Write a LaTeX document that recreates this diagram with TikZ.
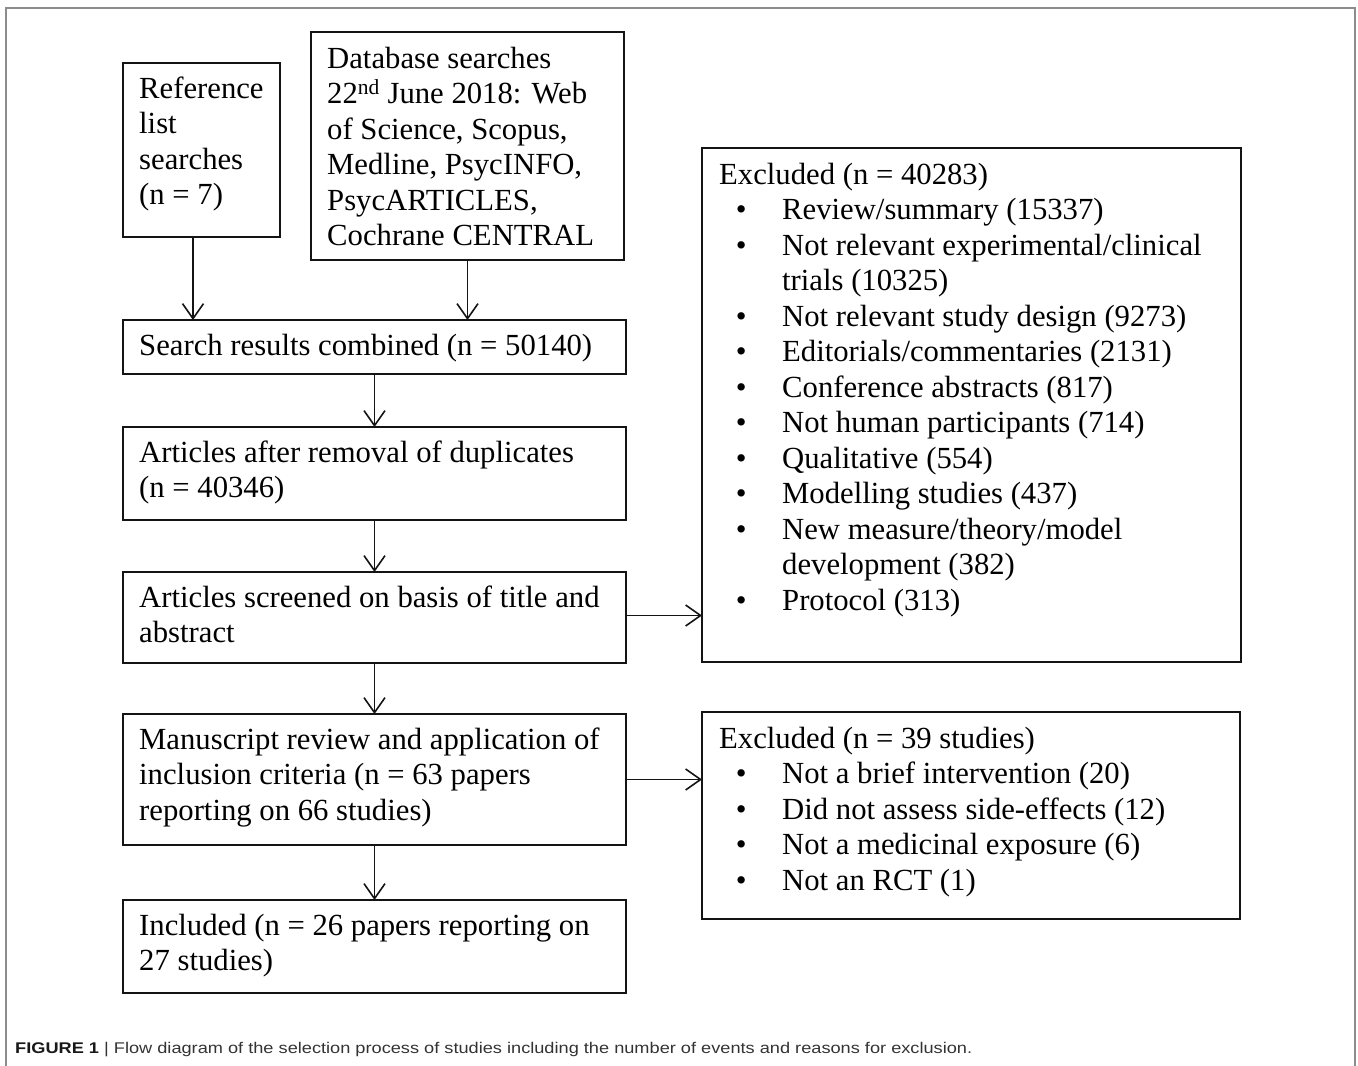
\documentclass[tikz,border=0pt]{standalone}
\usepackage{fontspec}
\usepackage{graphicx}
\setmainfont{Liberation Serif}
\newfontfamily\capfont{Liberation Sans}
\usetikzlibrary{arrows.meta,calc}
\newcommand\bul{\hspace*{22pt}\makebox[0pt]{\textbullet}\hspace*{41pt}}
\newcommand\contline{\hspace*{63pt}}
\begin{document}
\begin{tikzpicture}[x=1pt,y=-1pt,
  box/.style={draw=black!92, line width=1.6pt, inner sep=0pt, outer sep=0pt, anchor=north west},
  txt/.style={anchor=north west, inner sep=0pt, align=left, font=\fontsize{30.7}{35.5}\selectfont},
  arr/.style={draw=black!92, line width=1.6pt, -{Straight Barb[length=15pt,width=21pt,line width=1.6pt]}}]
\useasboundingbox (0,0) rectangle (1358,1066);
% outer frame
\draw[black!45, line width=1.2pt] (6,1066) -- (6,8) -- (1355,8) -- (1355,1066);
% boxes
\node[box, minimum width=157pt, minimum height=174pt] (ref) at (123,63) {};
\node[box, minimum width=313pt, minimum height=228pt] (db) at (311,32) {};
\node[box, minimum width=503pt, minimum height=54pt] (comb) at (123,320) {};
\node[box, minimum width=503pt, minimum height=93pt] (dup) at (123,427) {};
\node[box, minimum width=503pt, minimum height=91pt] (scr) at (123,572) {};
\node[box, minimum width=503pt, minimum height=131pt] (man) at (123,714) {};
\node[box, minimum width=503pt, minimum height=93pt] (inc) at (123,900) {};
\node[box, minimum width=539pt, minimum height=514pt] (ex1) at (702,148) {};
\node[box, minimum width=538pt, minimum height=207pt] (ex2) at (702,712) {};
% texts
\node[txt] (tref) at ([shift={(16,10.15)}]ref.north west) {\strut Reference\\list\\searches\\(n = 7)};
\node[txt] (tdb) at ([shift={(16,11)}]db.north west) {\strut Database searches\\22\textsuperscript{nd} June 2018: Web\\of Science, Scopus,\\Medline, PsycINFO,\\PsycARTICLES,\\Cochrane CENTRAL};
\node[txt] (tcomb) at ([shift={(16,10.15)}]comb.north west) {\strut Search results combined (n = 50140)};
\node[txt] (tdup) at ([shift={(16,10.15)}]dup.north west) {\strut Articles after removal of duplicates\\(n = 40346)};
\node[txt] (tscr) at ([shift={(16,10.15)}]scr.north west) {\strut Articles screened on basis of title and\\abstract};
\node[txt] (tman) at ([shift={(16,10.15)}]man.north west) {\strut Manuscript review and application of\\inclusion criteria (n = 63 papers\\reporting on 66 studies)};
\node[txt] (tinc) at ([shift={(16,10.15)}]inc.north west) {\strut Included (n = 26 papers reporting on\\27 studies)};
\node[txt] (tex1) at ([shift={(17,11)}]ex1.north west) {\strut Excluded (n = 40283)\\
\bul Review/summary (15337)\\
\bul Not relevant experimental/clinical\\
\contline trials (10325)\\
\bul Not relevant study design (9273)\\
\bul Editorials/commentaries (2131)\\
\bul Conference abstracts (817)\\
\bul Not human participants (714)\\
\bul Qualitative (554)\\
\bul Modelling studies (437)\\
\bul New measure/theory/model\\
\contline development (382)\\
\bul Protocol (313)};
\node[txt] (tex2) at ([shift={(17,11)}]ex2.north west) {\strut Excluded (n = 39 studies)\\
\bul Not a brief intervention (20)\\
\bul Did not assess side-effects (12)\\
\bul Not a medicinal exposure (6)\\
\bul Not an RCT (1)};
% connectors
\draw[arr] ([xshift=-8.5pt]ref.south) -- ([xshift=-8.5pt]ref.south |- comb.north);
\draw[arr] (db.south) -- (db.south |- comb.north);
\draw[arr] (comb.south) -- (dup.north);
\draw[arr] (dup.south) -- (scr.north);
\draw[arr] (scr.south) -- (man.north);
\draw[arr] (man.south) -- (inc.north);
\draw[arr] ([yshift=2pt]scr.east) -- ([yshift=2pt]scr.east -| ex1.west);
\draw[arr] (man.east) -- (man.east -| ex2.west);
% caption
\node[anchor=base west, inner sep=0pt] (cap) at (15,1053) {\resizebox{957pt}{\height}{\capfont\fontsize{15.5}{18}\selectfont\textcolor{black!90}{\textbf{FIGURE 1}} \textcolor{black!80}{| Flow diagram of the selection process of studies including the number of events and reasons for exclusion.}}};
\end{tikzpicture}
\end{document}
